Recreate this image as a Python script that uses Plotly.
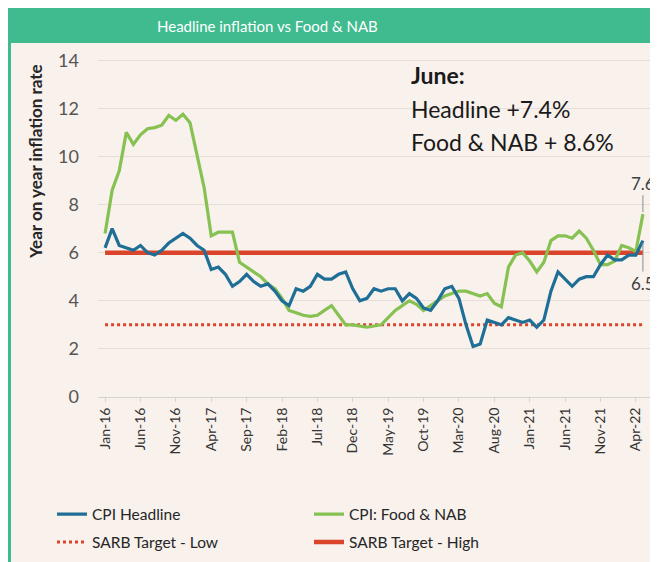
import plotly.graph_objects as go
import pandas as pd

# ---------------- data ----------------
months = [d.strftime("%b-%y") for d in pd.date_range("2016-01-01", "2022-05-01", freq="MS")]

cpi_headline = [
    6.2, 7.0, 6.3, 6.2, 6.1, 6.3, 6.0, 5.9, 6.1, 6.4, 6.6, 6.8,
    6.6, 6.3, 6.1, 5.3, 5.4, 5.1, 4.6, 4.8, 5.1, 4.8, 4.6, 4.7,
    4.4, 4.0, 3.8, 4.5, 4.4, 4.6, 5.1, 4.9, 4.9, 5.1, 5.2, 4.5,
    4.0, 4.1, 4.5, 4.4, 4.5, 4.5, 4.0, 4.3, 4.1, 3.7, 3.6, 4.0,
    4.5, 4.6, 4.1, 3.0, 2.1, 2.2, 3.2, 3.1, 3.0, 3.3, 3.2, 3.1,
    3.2, 2.9, 3.2, 4.4, 5.2, 4.9, 4.6, 4.9, 5.0, 5.0, 5.5, 5.9,
    5.7, 5.7, 5.9, 5.9, 6.5,
]

food_nab = [
    6.8, 8.6, 9.4, 11.0, 10.5, 10.9, 11.15, 11.2, 11.3, 11.7, 11.5, 11.75,
    11.4, 10.0, 8.7, 6.7, 6.85, 6.85, 6.85, 5.6, 5.4, 5.2, 5.0, 4.7,
    4.5, 4.1, 3.6, 3.5, 3.4, 3.35, 3.4, 3.6, 3.8, 3.4, 3.0, 3.0,
    2.95, 2.9, 2.95, 3.0, 3.3, 3.6, 3.8, 4.0, 3.85, 3.6, 3.8, 4.0,
    4.2, 4.3, 4.4, 4.4, 4.3, 4.2, 4.3, 3.9, 3.75, 5.4, 5.9, 6.0,
    5.65, 5.2, 5.6, 6.5, 6.7, 6.7, 6.6, 6.9, 6.6, 6.1, 5.5, 5.5,
    5.65, 6.3, 6.2, 6.05, 7.6,
]

sarb_low_value = 3
sarb_high_value = 6

tick_labels = ["Jan-16", "Jun-16", "Nov-16", "Apr-17", "Sep-17", "Feb-18", "Jul-18",
               "Dec-18", "May-19", "Oct-19", "Mar-20", "Aug-20", "Jan-21", "Jun-21",
               "Nov-21", "Apr-22"]
y_ticks = [0, 2, 4, 6, 8, 10, 12, 14]

# ---------------- styling ----------------
FONT = "Lato"
BLUE = "#1f6e96"
GREEN = "#86c152"
RED = "#d9442a"
BEIGE = "#f8f1ec"
FRAME = "#3fbb8f"

sarb_low = [sarb_low_value] * len(months)
sarb_high = [sarb_high_value] * len(months)

fig = go.Figure()
fig.add_trace(go.Scatter(x=months, y=sarb_low, mode="lines", name="SARB Target - Low",
                         line=dict(color=RED, width=3, dash="dot"), legend="legend2"))
fig.add_trace(go.Scatter(x=months, y=sarb_high, mode="lines", name="SARB Target - High",
                         line=dict(color=RED, width=4.5), legend="legend2"))
fig.add_trace(go.Scatter(x=months, y=food_nab, mode="lines", name="CPI: Food & NAB",
                         line=dict(color=GREEN, width=3.2), legend="legend"))
fig.add_trace(go.Scatter(x=months, y=cpi_headline, mode="lines", name="CPI Headline",
                         line=dict(color=BLUE, width=3.2), legend="legend"))

# page has an 8px body margin: figure drawn at (8,8)
OFF = 8
W, H = 650, 554
L, R, T, B = 90, 8, 45, 165
PW, PH = W - L - R, H - T - B
px = lambda x: (x - OFF - L) / PW          # screen x -> paper x
py = lambda y: (H - B - (y - OFF)) / PH    # screen y -> paper y

shapes = [
    dict(type="rect", xref="paper", yref="paper", x0=px(8), x1=px(670), y0=py(570), y1=py(40),
         fillcolor=BEIGE, line=dict(width=0), layer="below"),
    dict(type="rect", xref="paper", yref="paper", x0=px(8), x1=px(670), y0=py(43), y1=py(6),
         fillcolor=FRAME, line=dict(width=0), layer="below"),
    dict(type="line", xref="paper", yref="paper", x0=px(9.5), x1=px(9.5), y0=py(570), y1=py(6),
         line=dict(color=FRAME, width=3), layer="below"),
]

annotations = [
    dict(text="Headline inflation vs Food & NAB", xref="paper", yref="paper",
         x=px(267), y=py(26), xanchor="center", yanchor="middle", showarrow=False,
         font=dict(family=FONT, size=15, color="white")),
    dict(text="<b>Year on year inflation rate</b>", xref="paper", yref="paper",
         x=px(35), y=py(162), xanchor="center", yanchor="middle", showarrow=False,
         textangle=-90, font=dict(family=FONT, size=17, color="#262626")),
    dict(text="<b>June:</b>", xref="paper", yref="paper", x=px(409), y=py(75),
         xanchor="left", yanchor="middle", showarrow=False,
         font=dict(family=FONT, size=23, color="#1a1a1a")),
    dict(text="Headline +7.4%", xref="paper", yref="paper", x=px(409), y=py(109),
         xanchor="left", yanchor="middle", showarrow=False,
         font=dict(family=FONT, size=23, color="#1a1a1a")),
    dict(text="Food & NAB + 8.6%", xref="paper", yref="paper", x=px(409), y=py(142),
         xanchor="left", yanchor="middle", showarrow=False,
         font=dict(family=FONT, size=23, color="#1a1a1a")),
    dict(text=str(food_nab[-1]), x=months[-1], y=food_nab[-1], xref="x", yref="y",
         showarrow=True, arrowhead=0, arrowwidth=1, arrowcolor="#8c8c8c",
         ax=0, ay=-31, standoff=2, font=dict(family=FONT, size=17, color="#404040")),
    dict(text=str(cpi_headline[-1]), x=months[-1], y=cpi_headline[-1], xref="x", yref="y",
         showarrow=True, arrowhead=0, arrowwidth=1, arrowcolor="#8c8c8c",
         ax=0, ay=43, standoff=2, font=dict(family=FONT, size=17, color="#404040")),
]

fig.update_layout(
    width=W, height=H,
    margin=dict(l=L, r=R, t=T, b=B, autoexpand=False),
    paper_bgcolor="white",
    plot_bgcolor=BEIGE,
    font=dict(family=FONT, color="#333333"),
    shapes=shapes,
    annotations=annotations,
    showlegend=True,
    legend=dict(orientation="h", x=px(52), y=py(497.5), xanchor="left", yanchor="top",
                entrywidth=212, entrywidthmode="pixels", traceorder="reversed",
                bgcolor="rgba(0,0,0,0)", font=dict(family=FONT, size=15.5, color="#262626")),
    legend2=dict(orientation="h", x=px(52), y=py(525.5), xanchor="left", yanchor="top",
                 entrywidth=212, entrywidthmode="pixels", traceorder="normal",
                 bgcolor="rgba(0,0,0,0)", font=dict(family=FONT, size=15.5, color="#262626")),
)

fig.update_xaxes(
    type="category", range=[-1, len(months)],
    tickmode="array", tickvals=tick_labels, ticktext=tick_labels,
    tickangle=-90, tickfont=dict(family=FONT, size=14, color="#333333"),
    showgrid=False, showline=True, linecolor="#d9d3ce", linewidth=1,
    ticks="outside", ticklen=4, tickcolor="#d9d3ce",
)
fig.update_yaxes(
    range=[0, 14.3], tickvals=y_ticks,
    tickfont=dict(family=FONT, size=18, color="#555555"),
    showgrid=True, gridcolor="#e6ded8", gridwidth=1, zeroline=False,
    ticklabelstandoff=18,
)

fig.write_html("out.html")
